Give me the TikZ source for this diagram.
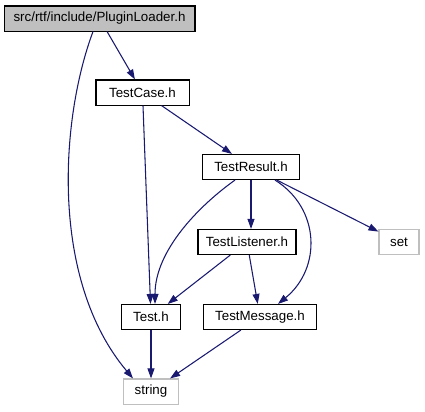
\documentclass[tikz,border=0pt]{standalone}
\usepackage{fontspec}
\setmainfont{Liberation Sans}
\usepackage{xcolor}
\usetikzlibrary{calc,arrows.meta}

\definecolor{edgeblue}{HTML}{191970}
\definecolor{boxgray}{HTML}{BFBFBF}

\begin{document}
\begin{tikzpicture}[x=0.75pt,y=-0.75pt,>={Triangle[length=7.5pt,width=5.2pt]},
	hdr/.style={draw=black,line width=0.8pt,minimum height=18.8pt,inner xsep=0pt,font=\fontsize{10pt}{12pt}\selectfont},
	ext/.style={hdr,draw=boxgray},
	dep/.style={->,edgeblue,line width=0.8pt}]
			\useasboundingbox (0,0) rectangle (425,411);
			
			\node[hdr,fill=boxgray,minimum width=143.2pt] (plugin) at (99.5,18.5) {src/rtf/include/PluginLoader.h};
			\node[hdr,minimum width=69.8pt] (tcase) at (142.5,92.5) {TestCase.h};
			\node[hdr,minimum width=72.5pt] (tresult) at (251,167) {TestResult.h};
			\node[hdr,minimum width=73.5pt] (tlistener) at (247,242) {TestListener.h};
			\node[ext,minimum width=30pt] (set) at (399,242) {set};
			\node[hdr,minimum width=44.3pt] (test) at (151,317) {Test.h};
			\node[hdr,minimum width=84.5pt] (tmessage) at (260,317) {TestMessage.h};
			\node[ext,minimum width=41.8pt] (string) at (151,391.5) {string};
			
			\draw[dep] (plugin) -- (tcase);
			\draw[dep] ($(plugin.south)+(-6.5,0)$) .. controls (60,120) and (50,280) .. ($(string.north)+(-18,0)$);
			\draw[dep] (tcase) -- (test);
			\draw[dep] (tcase) -- (tresult);
			\draw[dep] ($(tresult.south)+(-16,0)$) .. controls (200,205) and (155,250) .. ($(test.north)+(4,0)$);
			\draw[dep] (tresult.south) -- (tresult.south |- tlistener.north);
			\draw[dep] ($(tresult.south)+(24,0)$) .. controls (320,208) and (322,268) .. ($(tmessage.north)+(18,0)$);
			\draw[dep] (tresult) -- (set);
			\draw[dep] (tlistener) -- (test);
			\draw[dep] (tlistener) -- (tmessage);
			\draw[dep] (test) -- (string);
			\draw[dep] (tmessage) -- (string);
		\end{tikzpicture}
\end{document}
